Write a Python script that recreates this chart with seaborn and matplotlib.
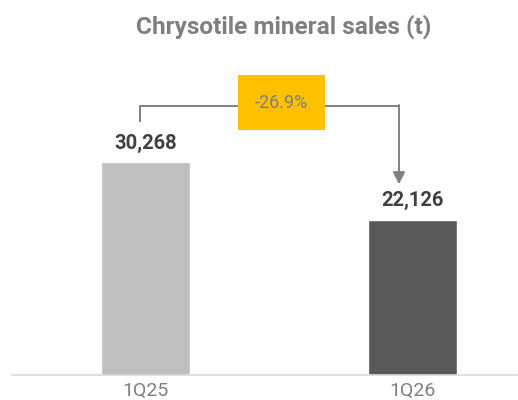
import numpy as np
import matplotlib
matplotlib.use("Agg")
import matplotlib.pyplot as plt
from matplotlib.patches import Rectangle
import seaborn as sns
import pandas as pd

# chart data
quarters = ["1Q25", "1Q26"]
sales = [30268, 22126]
bar_colors = ["#BFBFBF", "#595959"]
title = "Chrysotile mineral sales (t)"

change = (sales[1] - sales[0]) / sales[0] * 100  # -26.9%

sns.set_style("white")
plt.rcParams["font.family"] = ["Roboto", "DejaVu Sans"]

df = pd.DataFrame({"quarter": quarters, "sales": sales})

fig = plt.figure(figsize=(5.18, 4.0), dpi=100)
ax = fig.add_axes([12 / 518, 0.0625, 505 / 518, 0.9375])

sns.barplot(data=df, x="quarter", y="sales", hue="quarter",
            palette=bar_colors, width=0.333, legend=False, ax=ax)

ax.set_xlim(-0.5, 1.391)
ax.set_ylim(0, 53400)

for s in ["top", "left", "right"]:
    ax.spines[s].set_visible(False)
ax.spines["bottom"].set_color("#D9D9D9")
ax.spines["bottom"].set_linewidth(1.2)
ax.set_yticks([])
ax.set_xlabel("")
ax.set_ylabel("")
# tick labels kept just inside the bottom edge
ax.tick_params(axis="x", length=0, pad=5, labelsize=14, labelcolor="#7F7F7F")

# value labels
for i, v in enumerate(sales):
    ax.annotate(f"{v:,}", (i, v), xytext=(0, 7), textcoords="offset points",
                ha="center", va="bottom", fontsize=14.5, fontweight="bold",
                color="#404040")

# bracket with change
line_c = "#808080"
y_top = 38350
x_left = -0.02
x_right = 0.949
ax.plot([x_left, x_left, 0.4], [sales[0] + 5760, y_top, y_top],
        color=line_c, lw=1.4, solid_capstyle="butt")
ax.plot([0.6, x_right], [y_top, y_top], color=line_c, lw=1.4)
ax.annotate("", xy=(x_right, sales[1] + 5030), xytext=(x_right, y_top + 100),
            arrowprops=dict(arrowstyle="-|>,head_length=0.4,head_width=0.2",
                            color=line_c, lw=1.4, mutation_scale=18,
                            shrinkA=0, shrinkB=0))
ax.add_patch(Rectangle((0.51 - 0.163, 38800 - 3916), 0.326, 7832,
                       facecolor="#FFC000", edgecolor="none", zorder=3))
ax.text(0.51, 38800, f"{change:.1f}%", ha="center", va="center",
        fontsize=13, color="#7F7F7F", zorder=4)

fig.text(283.5 / 518, 1 - 33.5 / 400, title, ha="center", va="baseline",
         fontsize=17.6, fontweight="bold", color="#7F7F7F")

fig.savefig("out.png", dpi=100)
